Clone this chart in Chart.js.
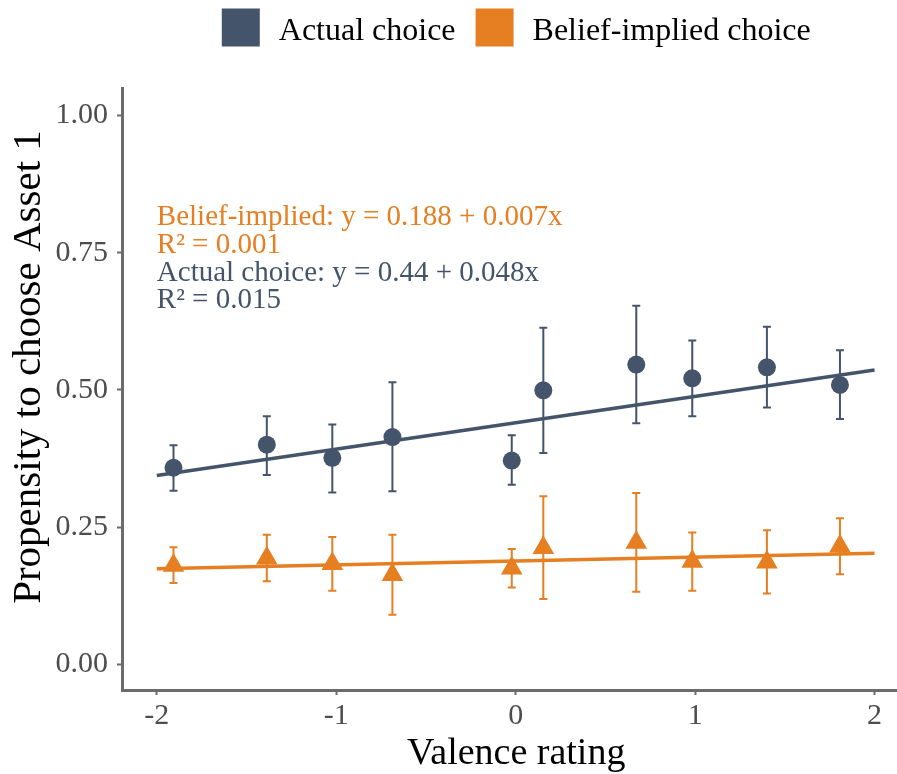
<!DOCTYPE html>
<html>
<head>
<meta charset="utf-8">
<script src="https://cdn.jsdelivr.net/npm/chart.js@4.4.1/dist/chart.umd.min.js"></script>
<style>
  html, body { margin: 0; padding: 0; background: #ffffff; }
  #wrap { width: 897px; height: 774px; }
</style>
</head>
<body>
<div id="wrap"><canvas id="chart" width="897" height="774"></canvas></div>
<script>
// Binned valence ratings (x) and group means with error-bar limits
const valence     = [-1.907, -1.387, -1.022, -0.687, -0.022, 0.154, 0.672, 0.984, 1.400, 1.807];
const actualMean  = [0.358, 0.400, 0.376, 0.414, 0.371, 0.499, 0.546, 0.521, 0.541, 0.509];
const actualLow   = [0.316, 0.345, 0.313, 0.315, 0.327, 0.385, 0.439, 0.452, 0.468, 0.447];
const actualHigh  = [0.399, 0.452, 0.437, 0.514, 0.417, 0.613, 0.653, 0.590, 0.615, 0.572];
const beliefMean  = [0.180, 0.193, 0.183, 0.163, 0.175, 0.212, 0.222, 0.187, 0.186, 0.215];
const beliefLow   = [0.148, 0.151, 0.134, 0.090, 0.140, 0.119, 0.132, 0.134, 0.129, 0.164];
const beliefHigh  = [0.213, 0.236, 0.232, 0.236, 0.210, 0.306, 0.312, 0.240, 0.244, 0.266];

// Linear fits: [intercept, slope], R squared, and the x span of the fitted line
const actualFit = [0.44, 0.048];
const beliefFit = [0.188, 0.007];
const actualR2 = '0.015';
const beliefR2 = '0.001';
const fitRange = [-2, 2];

// Axis ticks and labels
const xTicks = [-2, -1, 0, 1, 2];
const yTicks = [0, 0.25, 0.5, 0.75, 1];
const seriesNames = ['Actual choice', 'Belief-implied choice'];
const xTitle = 'Valence rating';
const yTitle = 'Propensity to choose Asset 1';

const DARK = '#44546A';
const ORANGE = '#E67E22';
const AXIS = '#6b6b6b';
const SERIF = "'Liberation Serif', 'Times New Roman', serif";

// The panel spans -2.2..2.2 horizontally; the canvas shows it up to 2.125
const PANEL_X = [-2.194, 2.2];

const fitPoints = (fit) => fitRange.map(x => ({ x: x, y: fit[0] + fit[1] * x }));

// Vertical error bars with small caps, drawn beneath the markers
const errorBars = {
  id: 'errorBars',
  beforeDatasetsDraw(chart) {
    const { ctx, scales: { x, y } } = chart;
    const draw = (lo, hi, color) => {
      ctx.save();
      ctx.strokeStyle = color;
      ctx.lineWidth = 2;
      valence.forEach((v, i) => {
        const px = x.getPixelForValue(v);
        const y1 = y.getPixelForValue(lo[i]);
        const y2 = y.getPixelForValue(hi[i]);
        ctx.beginPath();
        ctx.moveTo(px, y1); ctx.lineTo(px, y2);
        ctx.moveTo(px - 4, y1); ctx.lineTo(px + 4, y1);
        ctx.moveTo(px - 4, y2); ctx.lineTo(px + 4, y2);
        ctx.stroke();
      });
      ctx.restore();
    };
    draw(actualLow, actualHigh, DARK);
    draw(beliefLow, beliefHigh, ORANGE);
  }
};

// Regression equations printed in the upper-left of the panel
const equations = {
  id: 'equations',
  afterDatasetsDraw(chart) {
    const { ctx, scales: { x, y } } = chart;
    const lines = [
      [`Belief-implied: y = ${beliefFit[0]} + ${beliefFit[1]}x`, ORANGE],
      [`R\u00B2 = ${beliefR2}`, ORANGE],
      [`Actual choice: y = ${actualFit[0]} + ${actualFit[1]}x`, DARK],
      [`R\u00B2 = ${actualR2}`, DARK]
    ];
    const left = x.getPixelForValue(-2);
    const top = y.getPixelForValue(0.8);
    ctx.save();
    ctx.font = `29px ${SERIF}`;
    ctx.textAlign = 'left';
    ctx.textBaseline = 'alphabetic';
    lines.forEach(([t, c], i) => {
      ctx.fillStyle = c;
      ctx.fillText(t, left, top + i * 27.7);
    });
    ctx.restore();
  }
};

// Axis titles, centred on the full panel
const axisTitles = {
  id: 'axisTitles',
  afterDraw(chart) {
    const { ctx, scales: { x } } = chart;
    ctx.save();
    ctx.fillStyle = '#000000';
    ctx.textAlign = 'center';
    ctx.textBaseline = 'alphabetic';
    ctx.font = `38px ${SERIF}`;
    const cx = (x.getPixelForValue(PANEL_X[0]) + x.getPixelForValue(PANEL_X[1])) / 2;
    ctx.fillText(xTitle, cx, 764);
    ctx.font = `41px ${SERIF}`;
    ctx.translate(40, 367);
    ctx.rotate(-Math.PI / 2);
    ctx.fillText(yTitle, 0, 0);
    ctx.restore();
  }
};

// Legend with square keys, centred over the panel
const legendKeys = {
  id: 'legendKeys',
  afterDraw(chart) {
    const { ctx, scales: { x } } = chart;
    const colors = [DARK, ORANGE];
    const box = 38, gapText = 19, gapItem = 20;
    ctx.save();
    ctx.font = `32px ${SERIF}`;
    const widths = seriesNames.map(n => ctx.measureText(n).width);
    const total = widths.reduce((a, w) => a + box + gapText + w, 0) + gapItem * (seriesNames.length - 1);
    const center = (x.getPixelForValue(PANEL_X[0]) + x.getPixelForValue(PANEL_X[1])) / 2;
    let cx = center - total / 2;
    const top = 8.5;
    seriesNames.forEach((n, i) => {
      ctx.fillStyle = colors[i];
      ctx.fillRect(cx, top, box, box);
      cx += box + gapText;
      ctx.fillStyle = '#000000';
      ctx.textBaseline = 'alphabetic';
      ctx.fillText(n, cx, 39.5);
      cx += widths[i] + gapItem;
    });
    ctx.restore();
  }
};

const tickFont = { family: SERIF, size: 30 };

new Chart(document.getElementById('chart'), {
  type: 'scatter',
  data: {
    datasets: [
      { label: 'Actual fit', type: 'line', data: fitPoints(actualFit), borderColor: DARK, borderWidth: 3.5,
        pointRadius: 0, fill: false, order: 0 },
      { label: 'Belief fit', type: 'line', data: fitPoints(beliefFit), borderColor: ORANGE, borderWidth: 3.5,
        pointRadius: 0, fill: false, order: 0 },
      { label: seriesNames[0], data: valence.map((v, i) => ({ x: v, y: actualMean[i] })),
        pointStyle: 'circle', pointRadius: 9, backgroundColor: DARK, borderWidth: 0, order: 1 },
      { label: seriesNames[1], data: valence.map((v, i) => ({ x: v, y: beliefMean[i] })),
        pointStyle: 'triangle', pointRadius: 12.5, backgroundColor: ORANGE, borderWidth: 0, order: 1 }
    ]
  },
  options: {
    responsive: false,
    animation: false,
    devicePixelRatio: 1,
    layout: { autoPadding: false, padding: { top: 88, right: 0, bottom: 0, left: 0 } },
    plugins: { legend: { display: false }, tooltip: { enabled: false } },
    scales: {
      x: {
        type: 'linear', min: PANEL_X[0], max: 2.125,
        afterBuildTicks: s => { s.ticks = xTicks.map(v => ({ value: v })); },
        afterFit: s => { s.height = 84; s.paddingLeft = 0; s.paddingRight = 0; },
        ticks: { callback: v => String(v), font: tickFont, color: '#4d4d4d', padding: 3, maxRotation: 0, autoSkip: false },
        grid: { display: true, drawOnChartArea: false, tickLength: 5, tickWidth: 2, tickColor: AXIS },
        border: { display: true, color: AXIS, width: 3 },
        title: { display: false }
      },
      y: {
        type: 'linear', min: -0.047, max: 1.05,
        afterBuildTicks: s => { s.ticks = yTicks.map(v => ({ value: v })); },
        afterFit: s => { s.width = 122; s.paddingTop = 0; s.paddingBottom = 0; },
        ticks: { callback: v => v.toFixed(2), font: tickFont, color: '#4d4d4d', padding: 9, autoSkip: false },
        grid: { display: true, drawOnChartArea: false, tickLength: 5, tickWidth: 2, tickColor: AXIS },
        border: { display: true, color: AXIS, width: 3 },
        title: { display: false }
      }
    }
  },
  plugins: [errorBars, equations, axisTitles, legendKeys]
});
</script>
</body>
</html>
